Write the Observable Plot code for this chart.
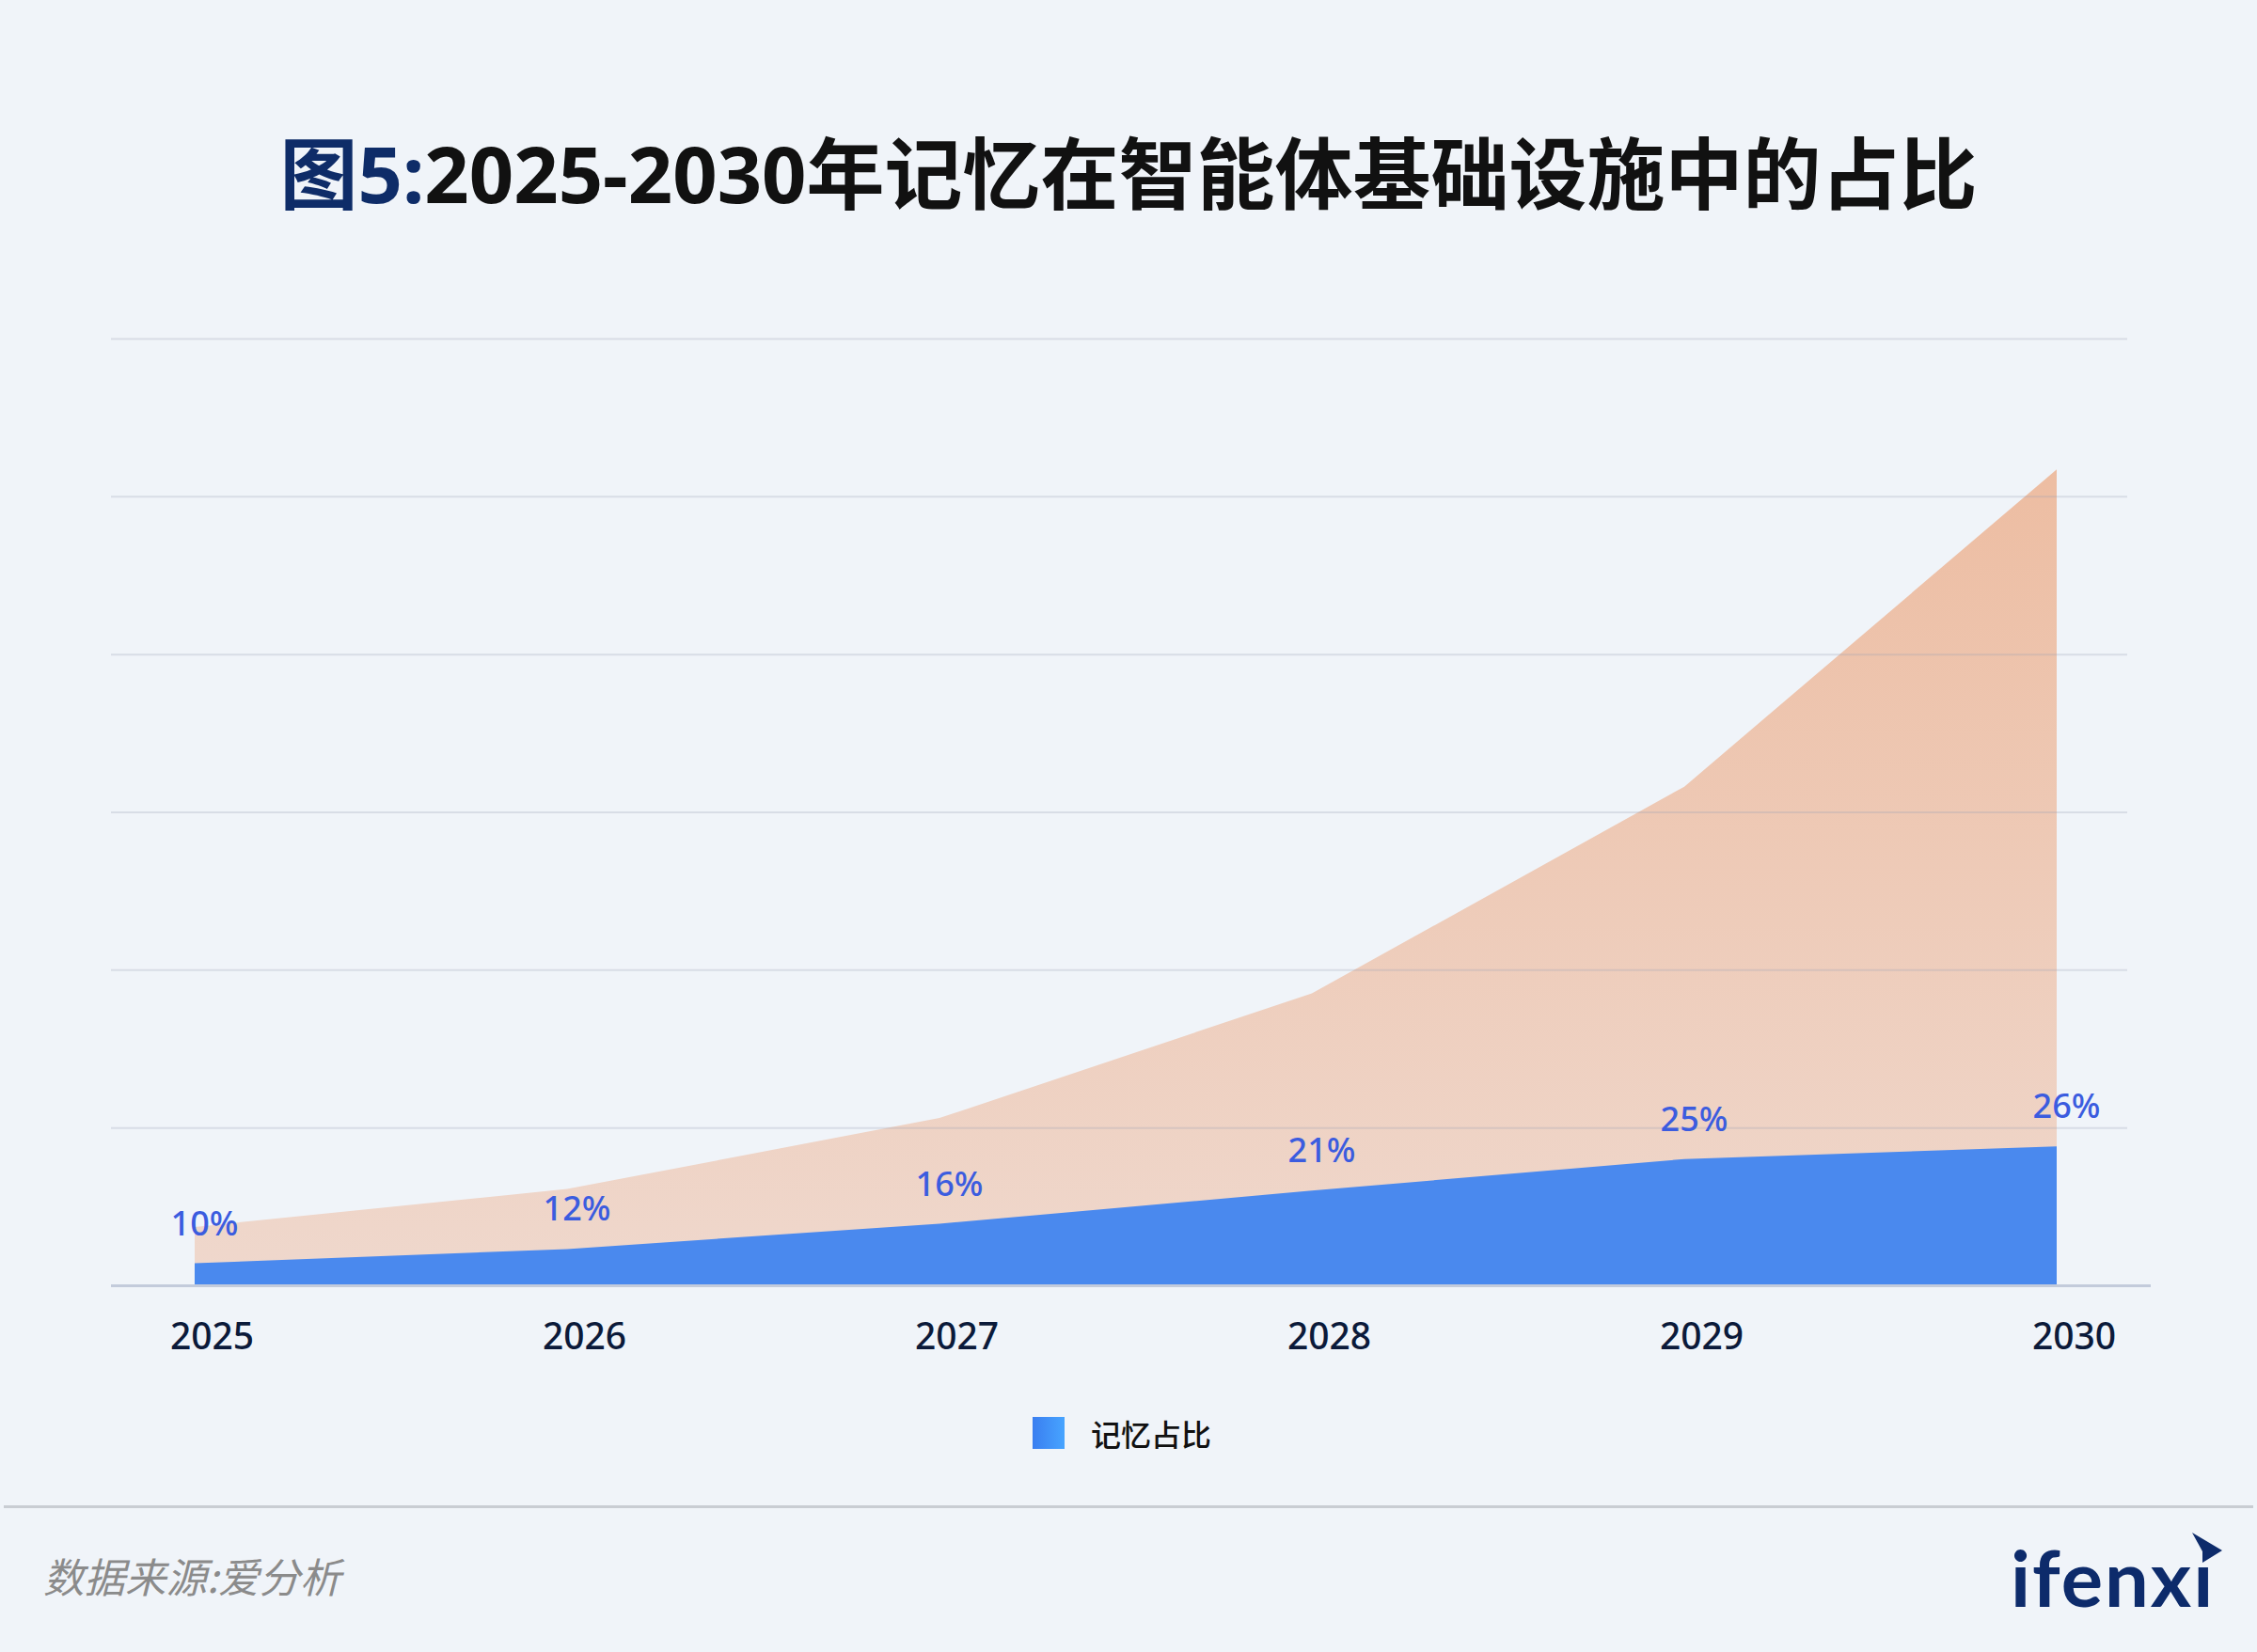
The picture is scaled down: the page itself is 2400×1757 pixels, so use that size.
<!DOCTYPE html>
<html>
<head>
<meta charset="utf-8">
<script src="https://cdn.jsdelivr.net/npm/d3@7"></script>
<script src="https://cdn.jsdelivr.net/npm/@observablehq/plot@0.6"></script>
<style>
  html, body { margin: 0; padding: 0; background: #F0F4F9; }
  #page { position: relative; width: 2400px; height: 1757px; background: #F0F4F9; overflow: hidden;
          font-family: "Noto Sans", "Noto Sans CJK SC", sans-serif; }
  #title { position: absolute; left: 0; top: 134px; width: 2400px; text-align: center;
           font-size: 83px; line-height: 100px; font-weight: 700; color: #111111;
           font-family: "Noto Sans", "Noto Sans CJK SC", sans-serif; }
  #title .lead { color: #0E2C68; }
  #chart { position: absolute; left: 0; top: 300px; }
  #legend { position: absolute; left: 1098px; top: 1500px; height: 48px; display: flex; align-items: center; }
  #legend .sw { width: 34px; height: 34px; background: linear-gradient(90deg, #3A7EF0, #47A4FF); }
  #legend .lb { margin-left: 28px; font-size: 32px; color: #111111; font-family: "Noto Sans CJK SC", sans-serif; font-weight: 500; }
  #sep { position: absolute; left: 4px; right: 4px; top: 1601px; height: 3px; background: #C9CDD3; }
  #source { position: absolute; left: 46px; top: 1650px; font-size: 43.5px; line-height: 52px; color: #8B8B8B;
            font-style: italic; font-family: "Noto Sans CJK SC", sans-serif; }
  #logo { position: absolute; left: 2138px; top: 1636px; font-size: 83px; line-height: 83px; font-weight: 700;
          color: #0D2B6B; font-family: Lato, "Noto Sans", sans-serif; letter-spacing: 2px; }
  #logoMark { position: absolute; left: 2326px; top: 1626px; }
</style>
</head>
<body>
<div id="page">
  <div id="title"><span class="lead">图5:</span>2025-2030年记忆在智能体基础设施中的占比</div>
  <div id="chart"></div>
  <div id="legend"><div class="sw"></div><div class="lb">记忆占比</div></div>
  <div id="sep"></div>
  <div id="source">数据来源:爱分析</div>
  <div id="logo">ifenxı</div>
  <svg id="logoMark" width="44" height="42" viewBox="0 0 44 42"><polygon points="5,4 37,23 16,36 16,24" fill="#0D2B6B"/></svg>
</div>
<script>
// ---- data ----
const years = [2025, 2026, 2027, 2028, 2029, 2030];
const infraValues = [37, 61, 106, 185, 316, 517];   // 智能体基础设施 (relative scale)
const memoryValues = [14, 23, 39, 60, 80, 88];      // 记忆 (relative scale)
const shareLabels = ["10%", "12%", "16%", "21%", "25%", "26%"];
const gridTicks = [100, 200, 300, 400, 500, 600];

const rows = years.map((year, i) => ({
  year,
  infra: infraValues[i],
  memory: memoryValues[i],
  label: shareLabels[i]
}));

const defs = () => {
  const svgNS = "http://www.w3.org/2000/svg";
  const d = document.createElementNS(svgNS, "defs");
  d.innerHTML = `<linearGradient id="orangeGrad" x1="0" y1="0" x2="0" y2="1">
      <stop offset="0" stop-color="#EDBDA2"/>
      <stop offset="1" stop-color="#EFD8CD"/>
    </linearGradient>`;
  return d;
};

const chart = Plot.plot({
  width: 2400,
  height: 1180,
  marginLeft: 118,
  marginRight: 138,
  marginTop: 60,
  marginBottom: 113,
  style: { background: "transparent", fontFamily: "'Noto Sans', 'Noto Sans CJK SC', sans-serif" },
  x: { type: "linear", domain: [2025, 2030], range: [207, 2187], label: null },
  y: { domain: [0, 600], axis: null },
  marks: [
    defs,
    Plot.areaY(rows, { x: "year", y: "infra", fill: "url(#orangeGrad)" }),
    Plot.ruleY(gridTicks, { stroke: "rgb(150,160,180)", strokeOpacity: 0.27, strokeWidth: 2 }),
    Plot.areaY(rows, { x: "year", y: "memory", fill: "#4A89EE" }),
    Plot.ruleY([0], { stroke: "#C3CBDB", strokeWidth: 3, insetRight: -25 }),
    Plot.text(rows, { x: "year", y: "memory", text: "label", dy: -42, dx: 10,
      fill: "#3B5CDF", fontSize: 36, fontWeight: 500 }),
    Plot.axisX(years, { tickSize: 0, tickPadding: 40, tickFormat: d => String(d), fontSize: 39,
      fill: "#0B1A3A", dx: 18, fontWeight: 500, label: null })
  ]
});
document.getElementById("chart").appendChild(chart);
</script>
</body>
</html>
